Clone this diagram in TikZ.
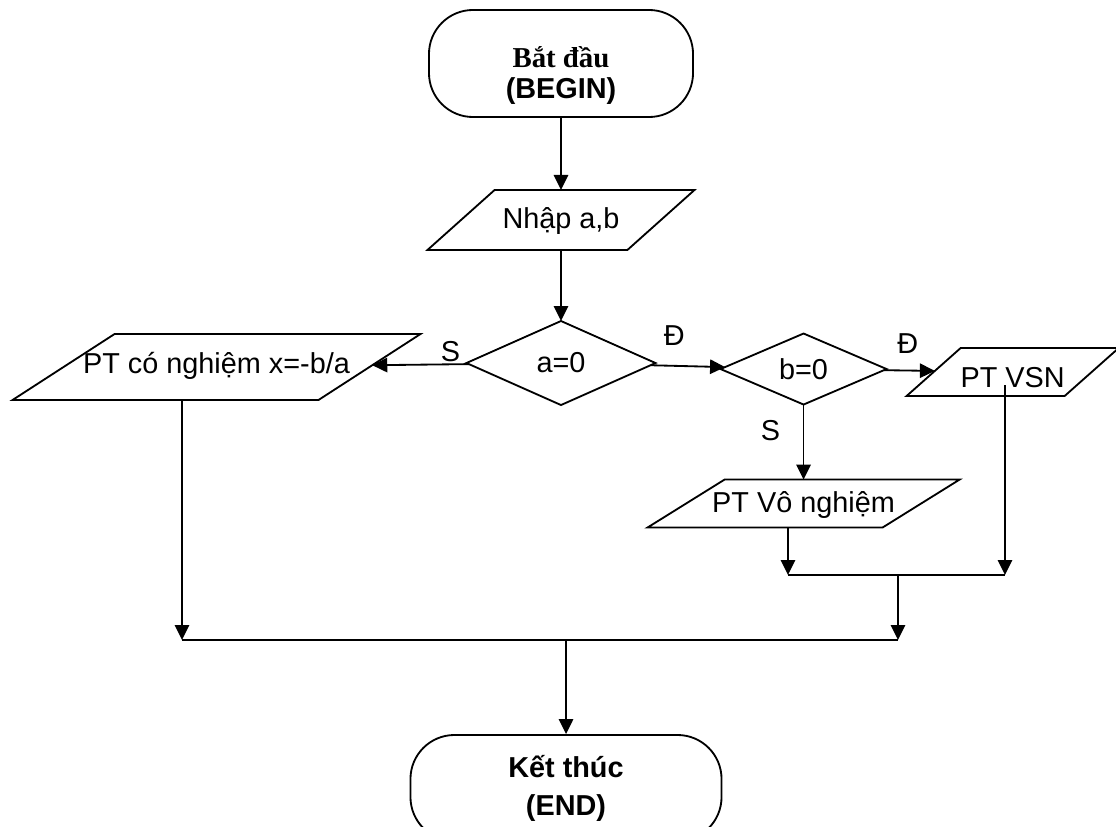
\documentclass[tikz,border=0pt]{standalone}
\usepackage{fontspec}
\setmainfont{Liberation Sans}
\newfontfamily\timesfont{Liberation Serif}
\usepackage{tikz}
\usetikzlibrary{arrows.meta,positioning,shapes.geometric}

\begin{document}
\begin{tikzpicture}[
  x=0.025cm, y=-0.025cm,
  font=\fontsize{20.5}{24}\selectfont,
  line width=1.3pt,
  term/.style={draw, rounded corners=1.1cm, align=center, inner sep=0pt, font=\fontsize{20.5}{22}\selectfont\bfseries},
  io/.style={draw, trapezium, trapezium stretches body, inner sep=0pt, outer sep=0pt},
  decide/.style={draw, diamond, inner sep=0pt, outer sep=0pt},
  lbl/.style={inner sep=1pt},
  arrow/.style={-{Triangle[length=3.75mm, width=3.6mm]}}
]
\useasboundingbox (0,0) rectangle (1116,827);
\node[term, minimum width=6.6cm, minimum height=2.675cm] (begin) at (561,63.5) {{\timesfont\rule{0pt}{32pt}Bắt đầu}\\(BEGIN)};
\node[io, trapezium left angle=41.8, trapezium right angle=138.2, minimum width=6.675cm, text height=27.2pt, text depth=15.5pt, below=1.8cm of begin] (input) {\makebox[0pt]{Nhập a,b}};
\node[decide, minimum width=4.725cm, minimum height=2.1cm, below=1.775cm of input] (a0) {a=0};
\node[decide, minimum width=4.15cm, minimum height=1.775cm, right=1.625cm of a0, yshift=-0.15cm] (b0) {b=0};
\node[io, trapezium left angle=41.6, trapezium right angle=138.4, minimum width=5.3cm, text height=28.4pt, text depth=5.7pt, right=1.175cm of b0, yshift=-0.075cm] (vsn) {\makebox[0pt]{PT VSN}};
\node[io, trapezium left angle=31.9, trapezium right angle=148.1, minimum width=7.8cm, text height=23.2pt, text depth=10.9pt, below=1.875cm of b0] (nosol) {\makebox[0pt]{PT Vô nghiệm}};
\node[io, trapezium left angle=32.9, trapezium right angle=147.1, minimum width=10.2cm, text height=28.3pt, text depth=18.7pt, left=2.425cm of a0, yshift=-0.1cm] (sol) {\makebox[0pt]{PT có nghiệm x=-b/a}};
\node[term, minimum width=7.775cm, minimum height=2.65cm, font=\fontsize{20.5}{27}\selectfont\bfseries] (end) at (566,788) {Kết thúc\\(END)};
\coordinate (vsnout) at (1005,385);
\coordinate (j1) at (788,575);
\coordinate (j2) at (1005,575);
\coordinate (j3) at (898,575);
\coordinate (j4) at (898,640);
\coordinate (j5) at (182,640);
\coordinate (j6) at (566,640);
\draw[arrow] (begin) -- (input);
\draw[arrow] (input) -- (a0);
\draw[arrow] (a0) -- node[lbl, pos=.19, above] {S} (sol);
\draw[arrow] (a0) -- node[lbl, pos=.32, above=12.5pt] {Đ} (b0);
\draw[arrow] (b0) -- node[lbl, pos=.47, above=10.5pt] {Đ} (vsn);
\draw[arrow] (b0) -- node[lbl, pos=.35, left=15pt] {S} (nosol);
\draw[arrow] (vsnout) -- (j2);
\draw[arrow] (nosol.south -| j1) -- (j1);
\draw (j1) -- (j2);
\draw[arrow] (j3) -- (j4);
\draw[arrow] (sol.south -| j5) -- (j5);
\draw (j5) -- (j4);
\draw[arrow] (j6) -- (end);
\end{tikzpicture}
\end{document}
